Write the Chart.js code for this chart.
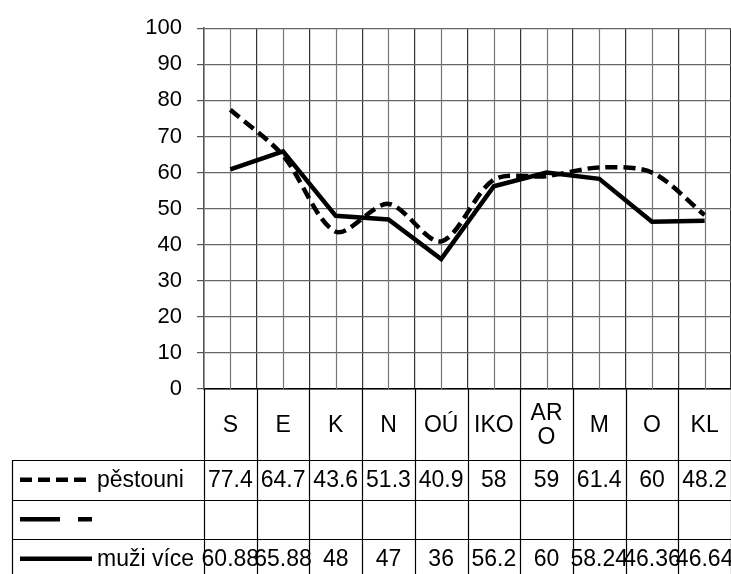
<!DOCTYPE html>
<html>
<head>
<meta charset="utf-8">
<script src="https://cdn.jsdelivr.net/npm/chart.js@4/dist/chart.umd.min.js"></script>
<style>
  html, body { margin: 0; padding: 0; background: #fff; }
  #wrap { width: 731px; height: 574px; position: relative; }
</style>
</head>
<body>
<div id="wrap"><canvas id="chart"></canvas></div>
<script>
const categories = ['S', 'E', 'K', 'N', 'OÚ', 'IKO', ['AR', 'O'], 'M', 'O', 'KL'];
const pestouni = [77.4, 64.7, 43.6, 51.3, 40.9, 58, 59, 61.4, 60, 48.2];
const blankSeries = [null, null, null, null, null, null, null, null, null, null];
const muziVice = [60.88, 65.88, 48, 47, 36, 56.2, 60, 58.24, 46.36, 46.64];
const pestouniText = ['77.4', '64.7', '43.6', '51.3', '40.9', '58', '59', '61.4', '60', '48.2'];
const muziViceText = ['60.88', '65.88', '48', '47', '36', '56.2', '60', '58.24', '46.36', '46.64'];
const yTicks = [0, 10, 20, 30, 40, 50, 60, 70, 80, 90, 100];

const FONT = "'Liberation Sans', Arial, sans-serif";
const HEADER_H = 71;
const ROW_H = 39.5;
const TABLE_LEFT = 12;

// draws the Excel-style data table under the plot
const dataTablePlugin = {
    id: 'dataTable',
    afterDraw(chart) {
        const ctx = chart.ctx;
        const xs = chart.scales.x;
        const area = chart.chartArea;
        const n = categories.length;
        const w = (xs.right - xs.left) / n;
        const top = area.bottom;
        const bottom = chart.height;
        const rowTops = [top + HEADER_H, top + HEADER_H + ROW_H, top + HEADER_H + 2 * ROW_H];

        ctx.save();
        ctx.strokeStyle = '#000';
        ctx.lineWidth = 1.2;
        // vertical cell borders
        for (let i = 0; i <= n; i++) {
            const x = Math.round(xs.left + i * w) + 0.5;
            ctx.beginPath();
            ctx.moveTo(x, top);
            ctx.lineTo(x, bottom);
            ctx.stroke();
        }
        // left border of the legend column
        ctx.beginPath();
        ctx.moveTo(TABLE_LEFT + 0.5, rowTops[0]);
        ctx.lineTo(TABLE_LEFT + 0.5, bottom);
        ctx.stroke();
        // row lines
        rowTops.forEach(y => {
            ctx.beginPath();
            ctx.moveTo(TABLE_LEFT, Math.round(y) + 0.5);
            ctx.lineTo(xs.right, Math.round(y) + 0.5);
            ctx.stroke();
        });

        ctx.fillStyle = '#000';
        ctx.font = '23px ' + FONT;
        ctx.textAlign = 'center';
        ctx.textBaseline = 'middle';
        // category headers
        categories.forEach((c, i) => {
            const cx = xs.getPixelForValue(i);
            const cy = top + HEADER_H / 2 + 1;
            if (Array.isArray(c)) {
                ctx.fillText(c[0], cx, cy - 12);
                ctx.fillText(c[1], cx, cy + 12);
            } else {
                ctx.fillText(c, cx, cy);
            }
        });
        // values
        const rows = [pestouniText, null, muziViceText];
        rows.forEach((vals, r) => {
            if (!vals) return;
            const cy = rowTops[r] + ROW_H / 2 + 1;
            vals.forEach((v, i) => ctx.fillText(v, xs.getPixelForValue(i), cy));
        });

        // legend keys + names
        chart.data.datasets.forEach((ds, r) => {
            const cy = rowTops[r] + ROW_H / 2;
            ctx.save();
            ctx.strokeStyle = '#000';
            ctx.lineWidth = 4.5;
            ctx.setLineDash(ds.borderDash || []);
            ctx.beginPath();
            ctx.moveTo(20, cy);
            ctx.lineTo(ds.keyEnd, cy);
            ctx.stroke();
            ctx.restore();
            if (ds.label) {
                ctx.textAlign = 'left';
                ctx.fillText(ds.label, 97, cy + 1);
            }
        });
        ctx.restore();
    }
};

// second set of vertical gridlines at category centres
const centreGridPlugin = {
    id: 'centreGrid',
    beforeDatasetsDraw(chart) {
        const ctx = chart.ctx;
        const xs = chart.scales.x;
        const area = chart.chartArea;
        ctx.save();
        ctx.strokeStyle = '#777';
        ctx.lineWidth = 1.2;
        categories.forEach((c, i) => {
            const x = Math.round(xs.getPixelForValue(i)) + 0.5;
            ctx.beginPath();
            ctx.moveTo(x, area.top);
            ctx.lineTo(x, area.bottom);
            ctx.stroke();
        });
        ctx.restore();
    }
};

new Chart(document.getElementById('chart'), {
    type: 'line',
    data: {
        labels: categories,
        datasets: [
            { label: 'pěstouni', data: pestouni, borderColor: '#000', borderWidth: 4.5,
              borderDash: [12, 6], tension: 0.3, pointRadius: 0, keyEnd: 92 },
            { label: '', data: blankSeries, borderColor: '#000', borderWidth: 4.5,
              borderDash: [40, 18, 14, 100], pointRadius: 0, keyEnd: 92 },
            { label: 'muži více', data: muziVice, borderColor: '#000', borderWidth: 4.5,
              tension: 0, pointRadius: 0, keyEnd: 92 }
        ]
    },
    options: {
        responsive: true,
        maintainAspectRatio: false,
        animation: false,
        layout: { padding: { top: 20, left: 0, right: 0, bottom: 0 } },
        scales: {
            x: {
                offset: true,
                grid: { offset: true, color: '#333', lineWidth: 1.2, drawTicks: false },
                border: { color: '#000', width: 1.5 },
                ticks: { display: false },
                afterFit: s => { s.height = 185; }
            },
            y: {
                min: 0, max: 100,
                afterBuildTicks: s => { s.ticks = yTicks.map(v => ({ value: v })); },
                grid: { color: '#666', lineWidth: 1.2, tickLength: 7, tickColor: '#555' },
                border: { color: '#555', width: 1.5 },
                ticks: { color: '#000', font: { family: FONT, size: 22 }, padding: 15 },
                afterFit: s => { s.width = 204; }
            }
        },
        plugins: {
            legend: { display: false },
            tooltip: { enabled: false },
            title: { display: false }
        }
    },
    plugins: [centreGridPlugin, dataTablePlugin]
});
</script>
</body>
</html>
